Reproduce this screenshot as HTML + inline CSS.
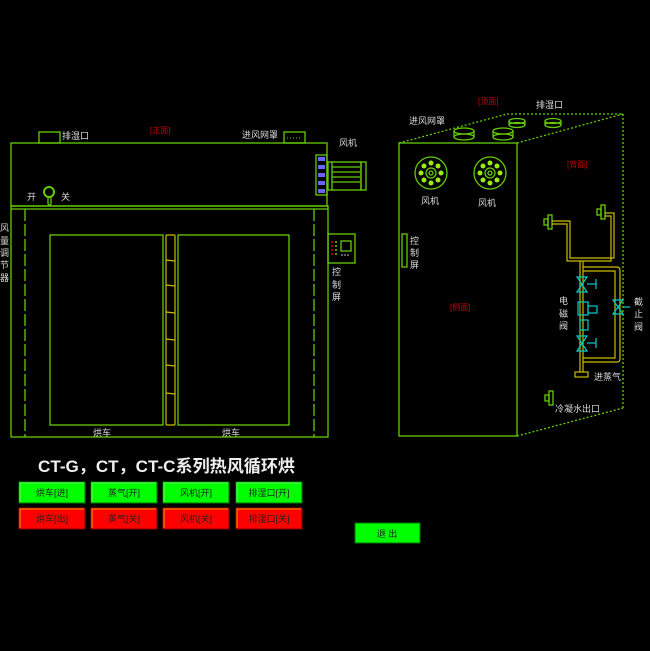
<!DOCTYPE html>
<html><head><meta charset="utf-8"><style>
html,body{margin:0;padding:0;background:#000;}
svg{display:block;}
text{font-family:"Liberation Sans","Noto Sans CJK SC",sans-serif;}
.l{fill:#ddd;font-size:9px;}
.r{fill:#c00;font-size:8px;}
.btn{font-size:9px;fill:#222;}
</style></head><body>
<svg width="650" height="651" viewBox="0 0 650 651" xmlns="http://www.w3.org/2000/svg">
<rect width="650" height="651" fill="#000"/>
<g fill="none" stroke="#6c0" stroke-width="1.3">
<rect x="11" y="143" width="316" height="63"/>
<rect x="11" y="206" width="317" height="231"/>
<line x1="11" y1="209" x2="328" y2="209"/>
<line x1="25" y1="209" x2="25" y2="437" stroke-dasharray="12,3"/>
<line x1="314" y1="209" x2="314" y2="437" stroke-dasharray="12,3"/>
<rect x="50" y="235" width="113" height="190"/>
<rect x="178" y="235" width="111" height="190"/>
<rect x="39" y="132" width="21" height="11"/>
<rect x="284" y="132" width="21" height="11"/>
<line x1="287" y1="138" x2="302" y2="138" stroke-dasharray="1,2" stroke-width="1"/>
<rect x="316" y="155" width="11" height="40"/>
<rect x="328" y="162" width="33" height="28"/>
<rect x="361" y="162" width="5" height="28"/>
<line x1="332" y1="167" x2="360" y2="167"/><line x1="332" y1="172" x2="360" y2="172"/>
<line x1="332" y1="177" x2="360" y2="177"/><line x1="332" y1="182" x2="360" y2="182"/>
<line x1="332" y1="162" x2="332" y2="190"/>
<rect x="328" y="234" width="27" height="29"/>
<rect x="341" y="241" width="10" height="10"/>
<circle cx="49" cy="192" r="5" stroke-width="2"/>
<rect x="48" y="197" width="3" height="8" rx="1.5"/>
<rect x="399" y="143" width="118" height="293"/>
<g stroke-dasharray="2,2">
<line x1="399" y1="143" x2="507" y2="114"/>
<line x1="507" y1="114" x2="623" y2="114"/>
<line x1="517" y1="143" x2="623" y2="114"/>
<line x1="623" y1="114" x2="623" y2="408"/>
<line x1="517" y1="436" x2="623" y2="408"/>
</g>
<ellipse cx="464" cy="131" rx="10" ry="3"/><ellipse cx="464" cy="137" rx="10" ry="3"/>
<line x1="454" y1="131" x2="454" y2="137"/><line x1="474" y1="131" x2="474" y2="137"/>
<ellipse cx="503" cy="131" rx="10" ry="3"/><ellipse cx="503" cy="137" rx="10" ry="3"/>
<line x1="493" y1="131" x2="493" y2="137"/><line x1="513" y1="131" x2="513" y2="137"/>
<ellipse cx="517" cy="121" rx="8" ry="2.5"/><ellipse cx="517" cy="125" rx="8" ry="2.5"/>
<line x1="509" y1="121" x2="509" y2="125"/><line x1="525" y1="121" x2="525" y2="125"/>
<ellipse cx="553" cy="121" rx="8" ry="2.5"/><ellipse cx="553" cy="125" rx="8" ry="2.5"/>
<line x1="545" y1="121" x2="545" y2="125"/><line x1="561" y1="121" x2="561" y2="125"/>
<circle cx="431" cy="173" r="16"/><circle cx="431" cy="173" r="5"/><circle cx="431" cy="173" r="2"/>
<circle cx="490" cy="173" r="16"/><circle cx="490" cy="173" r="5"/><circle cx="490" cy="173" r="2"/>
<rect x="402" y="234" width="5" height="33"/>
<rect x="548" y="215" width="4" height="14"/><rect x="544" y="219" width="4" height="6"/>
<rect x="601" y="205" width="4" height="14"/><rect x="597" y="209" width="4" height="6"/>
<rect x="549" y="391" width="4" height="14"/><rect x="545" y="395" width="4" height="6"/>
</g>
<g fill="#66f"><rect x="318" y="157" width="7" height="4"/><rect x="318" y="165" width="7" height="4"/><rect x="318" y="173" width="7" height="4"/><rect x="318" y="181" width="7" height="4"/><rect x="318" y="189" width="7" height="4"/></g>
<g fill="#c00"><circle cx="332" cy="242" r="1"/><circle cx="332" cy="246" r="1"/><circle cx="332" cy="250" r="1"/><circle cx="332" cy="254" r="1"/></g>
<g fill="#6c0"><circle cx="336" cy="242" r="1"/><circle cx="336" cy="246" r="1"/><circle cx="336" cy="250" r="1"/><circle cx="336" cy="254" r="1"/></g>
<g fill="#ccc"><circle cx="342" cy="255" r="0.8"/><circle cx="345" cy="255" r="0.8"/><circle cx="348" cy="255" r="0.8"/></g>
<g fill="none" stroke="#cb0" stroke-width="1.2">
<rect x="166" y="235" width="9" height="190" rx="1"/>
<line x1="166" y1="260" x2="175" y2="261"/><line x1="166" y1="285" x2="175" y2="286"/>
<line x1="166" y1="312" x2="175" y2="313"/><line x1="166" y1="339" x2="175" y2="340"/>
<line x1="166" y1="365" x2="175" y2="366"/><line x1="166" y1="393" x2="175" y2="394"/>
</g>
<g fill="#9e1">
<circle cx="441" cy="173" r="2.5"/><circle cx="438" cy="180" r="2.5"/><circle cx="431" cy="183" r="2.5"/><circle cx="424" cy="180" r="2.5"/><circle cx="421" cy="173" r="2.5"/><circle cx="424" cy="166" r="2.5"/><circle cx="431" cy="163" r="2.5"/><circle cx="438" cy="166" r="2.5"/>
<circle cx="500" cy="173" r="2.5"/><circle cx="497" cy="180" r="2.5"/><circle cx="490" cy="183" r="2.5"/><circle cx="483" cy="180" r="2.5"/><circle cx="480" cy="173" r="2.5"/><circle cx="483" cy="166" r="2.5"/><circle cx="490" cy="163" r="2.5"/><circle cx="497" cy="166" r="2.5"/>
</g>
<g fill="none" stroke="#cb0" stroke-width="1.2">
<path d="M552 221 H570 V258 H614 V213 H605"/>
<path d="M552 224 H567 V261 H611 V216 H605"/>
<line x1="580" y1="261" x2="580" y2="372"/><line x1="583" y1="261" x2="583" y2="372"/>
<path d="M583 267 H617 Q620 267 620 271 V359 Q620 362 617 362 H583"/>
<path d="M583 271 H615 V358 H583"/>
<rect x="575" y="372" width="13" height="5"/>
</g>
<g fill="none" stroke="#0cc" stroke-width="1.2">
<path d="M577 277 L587 277 L577 292 L587 292 Z"/><line x1="587" y1="284" x2="596" y2="284"/><line x1="596" y1="279" x2="596" y2="289"/>
<path d="M577 336 L587 336 L577 351 L587 351 Z"/><line x1="587" y1="343" x2="596" y2="343"/><line x1="596" y1="338" x2="596" y2="348"/>
<path d="M613 300 L623 300 L613 314 L623 314 Z"/><line x1="623" y1="307" x2="630" y2="307"/>
<rect x="578" y="302" width="10" height="13"/><rect x="588" y="306" width="9" height="7"/>
<rect x="580" y="320" width="8" height="10"/>
</g>
<text class="l" x="62" y="139">排湿口</text>
<text class="r" x="150" y="133">[正面]</text>
<text class="l" x="242" y="138">进风网罩</text>
<text class="l" x="339" y="146">风机</text>
<text class="l" x="27" y="200">开</text>
<text class="l" x="61" y="200">关</text>
<g class="l"><text x="0" y="231">风</text><text x="0" y="244">量</text><text x="0" y="256">调</text><text x="0" y="268">节</text><text x="0" y="281">器</text></g>
<g class="l"><text x="332" y="275">控</text><text x="332" y="288">制</text><text x="332" y="300">屏</text></g>
<text class="l" x="93" y="436">烘车</text>
<text class="l" x="222" y="436">烘车</text>
<text class="r" x="478" y="104">[顶面]</text>
<text class="l" x="536" y="108">排湿口</text>
<text class="l" x="409" y="124">进风网罩</text>
<text class="r" x="567" y="167">[背面]</text>
<text class="l" x="421" y="204">风机</text>
<text class="l" x="478" y="206">风机</text>
<g class="l"><text x="410" y="244">控</text><text x="410" y="256">制</text><text x="410" y="268">屏</text></g>
<text class="r" x="450" y="310">[侧面]</text>
<g class="l"><text x="559" y="304">电</text><text x="559" y="317">磁</text><text x="559" y="329">阀</text></g>
<g class="l"><text x="634" y="305">截</text><text x="634" y="317">止</text><text x="634" y="330">阀</text></g>
<text class="l" x="594" y="380">进蒸气</text>
<text class="l" x="555" y="412">冷凝水出口</text>
<text x="38" y="472" fill="#eee" font-weight="bold" font-size="17" textLength="257" lengthAdjust="spacingAndGlyphs">CT-G，CT，CT-C系列热风循环烘</text>
<g stroke-width="1">
<rect x="19" y="482" width="66" height="21" fill="#0f0" stroke="#070"/>
<rect x="91" y="482" width="66" height="21" fill="#0f0" stroke="#070"/>
<rect x="163" y="482" width="66" height="21" fill="#0f0" stroke="#070"/>
<rect x="236" y="482" width="66" height="21" fill="#0f0" stroke="#070"/>
<rect x="19" y="508" width="66" height="21" fill="#f00" stroke="#800"/>
<rect x="91" y="508" width="66" height="21" fill="#f00" stroke="#800"/>
<rect x="163" y="508" width="66" height="21" fill="#f00" stroke="#800"/>
<rect x="236" y="508" width="66" height="21" fill="#f00" stroke="#800"/>
<rect x="355" y="523" width="65" height="20" fill="#0f0" stroke="#070"/>
</g>
<g fill="none" stroke-width="1.5">
<path d="M20 502 V483 H84" stroke="#4f4"/><path d="M92 502 V483 H156" stroke="#4f4"/><path d="M164 502 V483 H228" stroke="#4f4"/><path d="M237 502 V483 H301" stroke="#4f4"/>
<path d="M20 528 V509 H84" stroke="#f60"/><path d="M92 528 V509 H156" stroke="#f60"/><path d="M164 528 V509 H228" stroke="#f60"/><path d="M237 528 V509 H301" stroke="#f60"/>
</g>
<g class="btn" text-anchor="middle">
<text x="52" y="496">烘车[进]</text><text x="124" y="496">蒸气[开]</text><text x="196" y="496">风机[开]</text><text x="269" y="496">排湿口[开]</text>
<text x="52" y="522">烘车[出]</text><text x="124" y="522">蒸气[关]</text><text x="196" y="522">风机[关]</text><text x="269" y="522">排湿口[关]</text>
<text x="387" y="537">退 出</text>
</g>
</svg>
</body></html>
